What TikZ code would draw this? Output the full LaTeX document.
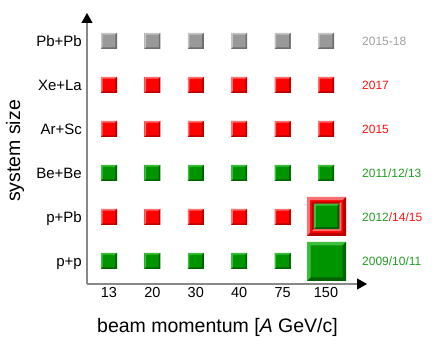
\documentclass[tikz,border=0pt]{standalone}
\usepackage{fontspec}
\setmainfont{Liberation Sans}
\usetikzlibrary{arrows.meta}
\definecolor{rface}{HTML}{FF0000}
\definecolor{rlight}{HTML}{FF7070}
\definecolor{rdark}{HTML}{B80000}
\definecolor{gface}{HTML}{009400}
\definecolor{glight}{HTML}{3CC03C}
\definecolor{gdark}{HTML}{006200}
\definecolor{kface}{HTML}{999999}
\definecolor{klight}{HTML}{C4C4C4}
\definecolor{kdark}{HTML}{6E6E6E}
\definecolor{axisgray}{HTML}{888888}
\definecolor{ktext}{HTML}{A0A0A0}
\definecolor{rtext}{HTML}{FF1010}
\definecolor{gtext}{HTML}{229C22}
\tikzset{
  bevel/.style n args={3}{path picture={
    \fill[#1] (path picture bounding box.south west) -- (path picture bounding box.north west)
      -- (path picture bounding box.north east) -- ([xshift=-#3,yshift=-#3]path picture bounding box.north east)
      -- ([xshift=#3,yshift=-#3]path picture bounding box.north west) -- ([xshift=#3,yshift=#3]path picture bounding box.south west) -- cycle;
    \fill[#2] (path picture bounding box.south west) -- (path picture bounding box.south east)
      -- (path picture bounding box.north east) -- ([xshift=-#3,yshift=-#3]path picture bounding box.north east)
      -- ([xshift=-#3,yshift=#3]path picture bounding box.south east) -- ([xshift=#3,yshift=#3]path picture bounding box.south west) -- cycle;
  }},
  sqbase/.style={rectangle, inner sep=0pt, outer sep=0pt, minimum size=16pt},
  redsq/.style={sqbase, fill=rface, bevel={rlight}{rdark}{1.6pt}},
  greensq/.style={sqbase, fill=gface, bevel={glight}{gdark}{1.6pt}},
  graysq/.style={sqbase, fill=kface, bevel={klight}{kdark}{1.6pt}},
  rowlab/.style={anchor=base east, inner sep=0pt, font=\fontsize{15}{18}\selectfont},
  ticklab/.style={anchor=base, inner sep=0pt, font=\fontsize{14.5}{18}\selectfont},
  yearlab/.style={anchor=base west, inner sep=0pt, font=\fontsize{12}{14}\selectfont},
  axislab/.style={anchor=base, inner sep=0pt, font=\fontsize{19.5}{23}\selectfont},
  axisline/.style={draw=axisgray, line width=1.2pt, -{Triangle[length=10pt,width=11pt,color=black]}}
}
\begin{document}
\begin{tikzpicture}[x=1pt,y=1pt]
\useasboundingbox (0,0) rectangle (436,355);
% axes
\coordinate (origin) at (87,71);
\coordinate (ytip) at (87,342);
\coordinate (xtip) at (367,71);
\draw[axisline] (origin) -- (ytip);
\draw[axisline] (origin) -- (xtip);
% columns
\def\cols{1/109/13,2/152.4/20,3/195.8/30,4/239.2/40,5/282.6/75,6/326/150}
\foreach \i/\x/\t in \cols {
  \node[ticklab] (tick\i) at (\x,57) {\t};
}
% rows
\foreach \i/\x/\t in \cols {
  \node[graysq] (pbpb\i) at (\x,314) {};
  \node[redsq] (xela\i) at (\x,270) {};
  \node[redsq] (arsc\i) at (\x,226) {};
  \node[greensq] (bebe\i) at (\x,182) {};
}
\foreach \i/\x in {1/109,2/152.4,3/195.8,4/239.2,5/282.6} {
  \node[redsq] (ppb\i) at (\x,138) {};
  \node[greensq] (pp\i) at (\x,94) {};
}
% big squares at 150
\node[sqbase, minimum size=39pt, fill=rface, bevel={rlight}{rdark}{3.2pt}] (ppb6) at (326.5,138.5) {};
\node[sqbase, minimum size=29.5pt, fill=rface, bevel={rdark}{rlight}{2pt}] (ppb6in) at (326.5,138.5) {};
\node[sqbase, minimum size=25.5pt, fill=gface, bevel={glight}{gdark}{2pt}] (ppb6g) at (326.5,138.5) {};
\node[sqbase, minimum size=39pt, fill=gface, bevel={glight}{gdark}{3.5pt}] (pp6) at (326.5,93.5) {};
% row labels
\node[rowlab] (lpbpb) at (82,308) {Pb+Pb};
\node[rowlab] (lxela) at (82,264) {Xe+La};
\node[rowlab] (larsc) at (82,220) {Ar+Sc};
\node[rowlab] (lbebe) at (82,176) {Be+Be};
\node[rowlab] (lppb) at (82,132) {p+Pb};
\node[rowlab] (lpp) at (82,88) {p+p};
% year labels
\node[yearlab, text=ktext] (ypbpb) at (362,309.7) {2015-18};
\node[yearlab, text=rtext] (yxela) at (362,265.7) {2017};
\node[yearlab, text=rtext] (yarsc) at (362,221.7) {2015};
\node[yearlab, text=gtext] (ybebe) at (362,177.7) {2011/12/13};
\node[yearlab] (yppb) at (362,133.7) {\textcolor{gtext}{2012}\textcolor{rtext}{/14/15}};
\node[yearlab, text=gtext] (ypp) at (362,89.7) {2009/10/11};
% axis labels
\node[axislab] (xlab) at (217.5,22) {beam momentum [\textit{A} GeV/c]};
\node[axislab, rotate=90] (ylab) at (20,204) {system size};
\end{tikzpicture}
\end{document}
